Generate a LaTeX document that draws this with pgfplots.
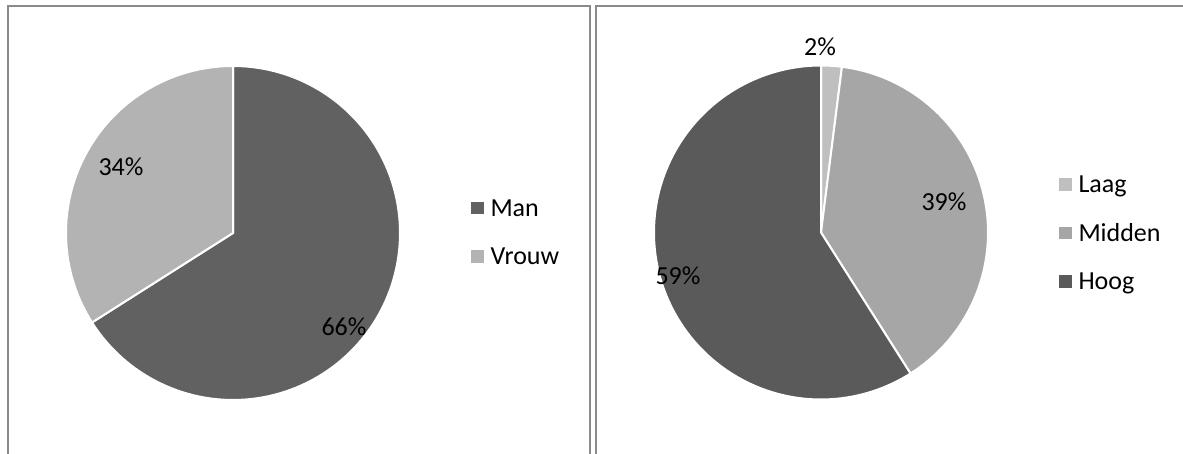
\documentclass[border=0pt]{standalone}
\usepackage{pgfplots}
\pgfplotsset{compat=1.18}
\usepackage{pgfplotstable}
\usepackage{fontspec}
\setmainfont{Carlito}

\definecolor{cMan}{HTML}{616161}
\definecolor{cVrouw}{HTML}{B3B3B3}
\definecolor{cLaag}{HTML}{BFBFBF}
\definecolor{cMidden}{HTML}{A6A6A6}
\definecolor{cHoog}{HTML}{5A5A5A}
\definecolor{frame}{HTML}{8A8A8A}

% share in percent, clockwise from 12 o'clock
\pgfplotstableread{
label  value colour
Man    66    cMan
Vrouw  34    cVrouw
}\geslacht

\pgfplotstableread{
label  value colour
Laag   2     cLaag
Midden 39    cMidden
Hoog   59    cHoog
}\niveau

\newcommand\bigfont{\fontsize{26}{30}\selectfont}

% #1 table, #2 cx, #3 cy, #4 radius (axis units = px)
\newcommand\drawpie[4]{%
  \pgfplotstablegetrowsof{#1}%
  \pgfmathtruncatemacro\lastrow{\pgfplotsretval-1}%
  \xdef\cum{0}%
  \pgfplotsforeachungrouped \row in {0,...,\lastrow}{%
    \pgfplotstablegetelem{\row}{value}\of{#1}\let\val\pgfplotsretval
    \pgfplotstablegetelem{\row}{colour}\of{#1}\let\col\pgfplotsretval
    \pgfplotstablegetelem{\row}{label}\of{#1}\let\lab\pgfplotsretval
    \pgfmathsetmacro\angb{90-3.6*\cum}%
    \pgfmathsetmacro\anga{90-3.6*(\cum+\val)}%
    \pgfmathsetmacro\newcum{\cum+\val}\xdef\cum{\newcum}%
    \edef\temp{\noexpand\addplot[fill=\col, draw=white, line width=2pt,
        domain=\anga:\angb, samples=120]
      ({#2+#4*cos(x)},{#3+#4*sin(x)}) -- (axis cs:#2,#3) -- cycle;
      \noexpand\addlegendentry{\lab}}%
    \temp
  }%
}

\pgfplotsset{
  piebox/.style={
    scale only axis, hide axis, clip=false,
    ymin=0, ymax=454, height=454pt,
    legend cell align=left,
    legend image code/.code={\fill[##1, draw=none] (0pt,-6.2pt) rectangle (12.5pt,6.2pt);},
    legend style={draw=none, fill=none, inner sep=0pt, outer sep=0pt,
      font=\bigfont, row sep=31.7pt, column sep=7pt,
      nodes={inner sep=0pt, text height=16.7pt, text depth=0pt}},
  },
}
\tikzset{pct/.style={font=\bigfont, inner sep=0pt, text height=16.7pt, text depth=0pt}}

\begin{document}
\begin{tikzpicture}
\begin{axis}[piebox, at={(0pt,0pt)}, anchor=south west,
    width=593pt, xmin=0, xmax=593,
    legend style={at={(axis cs:471,254.3)}, anchor=north west}]
  \draw[frame, line width=1.8pt] (axis cs:8,-5) -- (axis cs:8,448) -- (axis cs:590,448) -- (axis cs:590,-5);
  \drawpie{\geslacht}{233}{221}{167}
  \node[pct] at (axis cs:121,286.5) {34\%};
  \node[pct] at (axis cs:344,127) {66\%};
\end{axis}
\begin{axis}[piebox, at={(593pt,0pt)}, anchor=south west,
    width=590pt, xmin=593, xmax=1183,
    legend style={at={(axis cs:1059,277.8)}, anchor=north west}]
  \draw[frame, line width=1.8pt] (axis cs:596,-5) -- (axis cs:596,448) -- (axis cs:1190,448);
  \drawpie{\niveau}{821}{221.5}{167}
  \node[pct] at (axis cs:820,407) {2\%};
  \node[pct] at (axis cs:944,252) {39\%};
  \node[pct] at (axis cs:678,178) {59\%};
\end{axis}
\pgfresetboundingbox
\useasboundingbox (0pt,0pt) rectangle (1183pt,454pt);
\end{tikzpicture}
\end{document}
